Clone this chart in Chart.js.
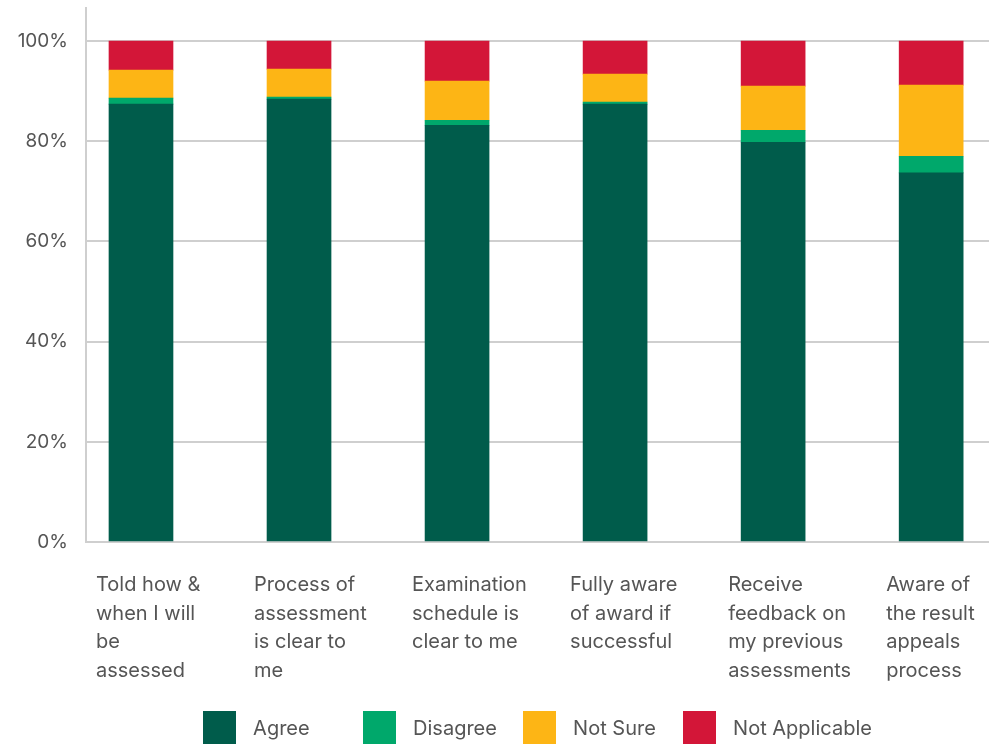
<!DOCTYPE html>
<html>
<head>
<meta charset="utf-8">
<script src="https://cdn.jsdelivr.net/npm/chart.js@4/dist/chart.umd.min.js"></script>
<style>
    html, body { margin: 0; padding: 0; background: #ffffff; }
    #wrap { position: relative; width: 989px; height: 744px; }
    #legend {
        position: absolute; left: 86px; top: 711px; width: 903px;
        display: flex; justify-content: center;
        font-family: Inter, "Noto Sans", sans-serif; font-size: 20px; color: #555555;
    }
    .item { display: flex; align-items: center; min-width: 160px; height: 33px; }
    .item:last-child { min-width: 0; }
    .box { width: 33px; height: 33px; margin-right: 17px; }
</style>
</head>
<body>
<div id="wrap">
    <canvas id="myChart1" width="989" height="744"></canvas>
    <div id="legend"></div>
</div>
<script>
// Survey statements (x axis, one line per array entry)
const categories = [
    ['Told how &', 'when I will', 'be', 'assessed'],
    ['Process of', 'assessment', 'is clear to', 'me'],
    ['Examination', 'schedule is', 'clear to me'],
    ['Fully aware', 'of award if', 'successful'],
    ['Receive', 'feedback on', 'my previous', 'assessments'],
    ['Aware of', 'the result', 'appeals', 'process']
];

// Share of responses, in percent
const agree = [87.4, 88.4, 83.2, 87.4, 79.8, 73.7];
const disagree = [1.2, 0.4, 1.0, 0.4, 2.4, 3.3];
const notSure = [5.6, 5.6, 7.8, 5.6, 8.8, 14.2];
const notApplicable = [5.8, 5.6, 8.0, 6.6, 9.0, 8.8];

const seriesNames = ['Agree', 'Disagree', 'Not Sure', 'Not Applicable'];
const seriesColors = ['#005c4b', '#00a86b', '#fdb515', '#d31638'];
const yTicks = [0, 20, 40, 60, 80, 100];

const fontFamily = 'Inter, "Noto Sans", sans-serif';
const gridColor = '#cfcfcf';

const seriesValues = [agree, disagree, notSure, notApplicable];

const datasets = seriesValues.map((values, s) => ({
    label: seriesNames[s],
    data: values.map((v, i) => ({ x: i, y: v })),
    backgroundColor: seriesColors[s],
    borderWidth: 0,
    barThickness: 64
}));

new Chart(document.getElementById('myChart1').getContext('2d'), {
    type: 'bar',
    data: { datasets: datasets },
    options: {
        responsive: false,
        animation: false,
        layout: { padding: { top: 8, right: 0, bottom: 0, left: 0 } },
        plugins: {
            legend: { display: false },
            tooltip: { enabled: false }
        },
        scales: {
            x: {
                type: 'linear',
                stacked: true,
                offset: false,
                min: -0.348,
                max: 5.366,
                afterBuildTicks: (scale) => {
                    scale.ticks = categories.map((_, i) => ({ value: i }));
                },
                afterFit: (scale) => {
                    scale.height = 202;
                    scale.paddingLeft = 0;
                    scale.paddingRight = 0;
                },
                grid: { display: false, drawTicks: false },
                border: { display: true, color: gridColor, width: 2 },
                ticks: {
                    callback: (value) => categories[value],
                    align: 'start',
                    labelOffset: -45,
                    padding: 29,
                    maxRotation: 0,
                    autoSkip: false,
                    color: '#555555',
                    font: { family: fontFamily, size: 20, lineHeight: 1.425 }
                }
            },
            y: {
                stacked: true,
                min: 0,
                max: 106.6,
                afterBuildTicks: (scale) => {
                    scale.ticks = yTicks.map(v => ({ value: v }));
                },
                afterFit: (scale) => {
                    scale.width = 86;
                    scale.paddingTop = 0;
                    scale.paddingBottom = 0;
                },
                grid: { color: gridColor, lineWidth: 2, drawTicks: false },
                border: { display: true, color: gridColor, width: 2 },
                ticks: {
                    callback: (value) => value + '%',
                    padding: 18,
                    color: '#555555',
                    font: { family: fontFamily, size: 19 }
                }
            }
        }
    }
});

// Legend drawn as HTML under the plot
const legend = document.getElementById('legend');
seriesNames.forEach((name, s) => {
    const item = document.createElement('div');
    item.className = 'item';
    const box = document.createElement('span');
    box.className = 'box';
    box.style.background = seriesColors[s];
    const text = document.createElement('span');
    text.textContent = name;
    item.appendChild(box);
    item.appendChild(text);
    legend.appendChild(item);
});
</script>
</body>
</html>
